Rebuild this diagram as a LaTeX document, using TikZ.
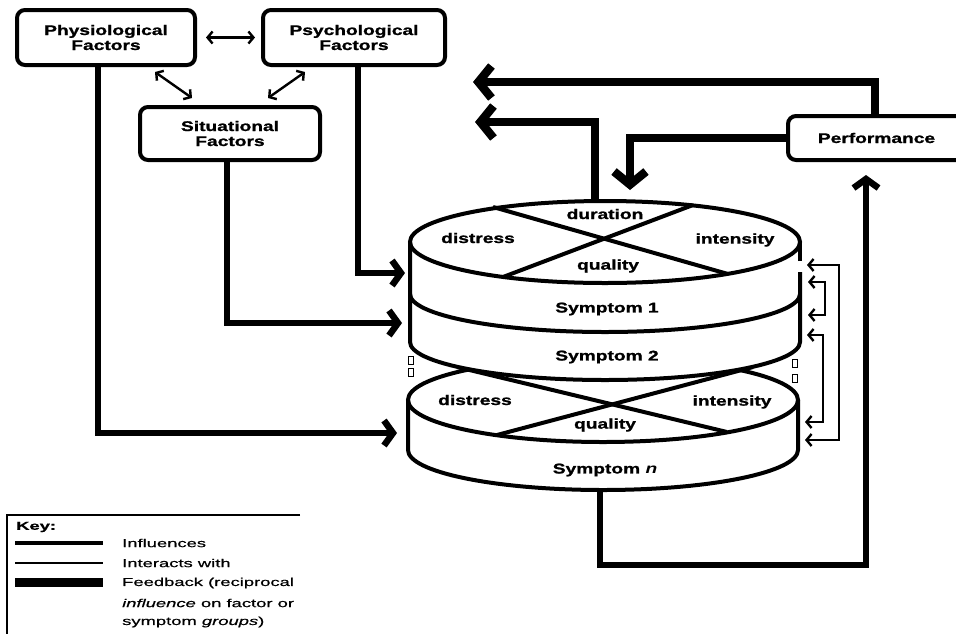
\documentclass[tikz,border=0pt]{standalone}
\usepackage{fontspec}
\setmainfont{Liberation Sans}[FakeStretch=1.37, BoldFeatures={FakeBold=1.2}]
\newfontfamily\keyfont{Liberation Sans}[FakeStretch=1.6, FakeBold=0.6]
\usetikzlibrary{arrows.meta}
\tikzset{
  every node/.style={font=\fontsize{14}{15}\selectfont\bfseries},
  box/.style={draw, line width=4pt, rounded corners=8pt, fill=white, align=center, inner sep=0pt},
  infl/.style={line width=6.5pt, -{Straight Barb[length=9pt,width=25pt]}},
  fb/.style={line width=8.5pt, -{Straight Barb[length=13pt,width=32pt]}},
  thinarr/.style={line width=2.4pt, {Straight Barb[length=5pt,width=12pt]}-{Straight Barb[length=5pt,width=12pt]}},
  cyl/.style={line width=4pt},
  lbl/.style={inner sep=0pt},
  keytxt/.style={font=\keyfont\fontsize{11.5}{13}\selectfont, anchor=west, inner sep=0pt},
  dotbox/.style={draw, line width=1pt, inner sep=0pt, minimum width=5pt, minimum height=8pt},
}
\begin{document}
\begin{tikzpicture}[x=1pt,y=1pt]
\useasboundingbox (0,0) rectangle (956,-633);
\fill[white] (0,0) rectangle (956,-633);
\clip (0,0) rectangle (956,-633);

% factor boxes
\node[box, minimum width=178pt, minimum height=55pt] (phys) at (106,-37.5) {Physiological\\Factors};
\node[box, minimum width=182pt, minimum height=55pt] (psych) at (354,-37.5) {Psychological\\Factors};
\node[box, minimum width=180pt, minimum height=53pt] (sit) at (230,-133.5) {Situational\\Factors};
\node[box, minimum width=177pt, minimum height=44pt] (perf) at (876.5,-138) {Performance};

% interactions between factors
\draw[thinarr, shorten <=9pt, shorten >=6pt] (phys.east) -- (psych.west);
\coordinate (d1a) at (155,-72); \coordinate (d1b) at (192,-98);
\coordinate (d2a) at (305,-72); \coordinate (d2b) at (268,-98);
\draw[thinarr] (d1a) -- (d1b);
\draw[thinarr] (d2a) -- (d2b);

% Symptom n cylinder (behind)
\draw[cyl, fill=white] (603,-400) ellipse [x radius=195pt, y radius=42pt];
\draw[cyl] (457,-367) -- (727,-432);
\draw[cyl] (753,-367) -- (497,-435);
\draw[cyl] (408,-400) -- (408,-450) arc[start angle=180, end angle=360, x radius=195pt, y radius=40pt] -- (798,-400);

% Symptom 1 / 2 stack
\fill[white] (410,-242) arc[start angle=180, end angle=0, x radius=195pt, y radius=41pt]
  -- (800,-342) arc[start angle=0, end angle=-180, x radius=195pt, y radius=38pt] -- cycle;
\draw[cyl] (605,-242) ellipse [x radius=195pt, y radius=41pt];
\draw[cyl] (493,-207) -- (728,-274);
\draw[cyl] (693,-205) -- (503,-277);
\draw[cyl] (410,-294) arc[start angle=180, end angle=360, x radius=195pt, y radius=38pt];
\draw[cyl] (410,-242) -- (410,-342) arc[start angle=180, end angle=360, x radius=195pt, y radius=38pt] -- (800,-272);
\draw[cyl] (800,-261) -- (800,-242);

% cylinder labels
\node[lbl] (dur) at (605,-214) {duration};
\node[lbl] (dis1) at (478,-238) {distress};
\node[lbl] (int1) at (735,-240) {intensity};
\node[lbl] (qua1) at (608,-266) {quality};
\node[lbl] (sy1) at (607,-309) {Symptom 1};
\node[lbl] (sy2) at (607,-357) {Symptom 2};
\node[lbl] (dis2) at (475,-400) {distress};
\node[lbl] (int2) at (732,-402) {intensity};
\node[lbl] (qua2) at (605,-425) {quality};
\node[lbl] (syn) at (605,-470) {Symptom \textit{n}};

% small marks
\node[dotbox] (m1) at (411,-360) {};
\node[dotbox] (m2) at (411,-372) {};
\node[dotbox] (m3) at (795,-363) {};
\node[dotbox] (m4) at (795,-378) {};

% influences
\coordinate (inPs) at (405,-273);
\coordinate (inSi) at (402,-323);
\coordinate (inPh) at (397,-433);
\draw[infl] ([xshift=4pt]psych.south) |- (inPs);
\draw[infl] ([xshift=-3pt]sit.south) |- (inSi);
\draw[infl] ([xshift=-8pt]phys.south) |- (inPh);

% feedback
\coordinate (fb1) at (473,-82);
\coordinate (s1top) at (595,-201);
\coordinate (fb2) at (475,-122);
\coordinate (fb3) at (630,-190);
\draw[fb] ([xshift=-1.5pt]perf.north) |- (fb1);
\draw[fb] (s1top) |- (fb2);
\draw[fb] (perf.west) -| (fb3);

% symptom n to performance
\coordinate (snb) at (600,-490);
\coordinate (snlow) at (600,-565);
\draw[infl, shorten >=13pt] (snb) -- (snlow) -| ([xshift=-10.5pt]perf.south);

% symptom interactions on the right
\coordinate (ra1) at (807,-265); \coordinate (ra2) at (805,-440);
\coordinate (rb1) at (808,-282); \coordinate (rb2) at (808,-315);
\coordinate (rc1) at (807,-335); \coordinate (rc2) at (805,-422);
\draw[thinarr] (ra1) -- ++(32,0) |- (ra2);
\draw[thinarr] (rb1) -- ++(17,0) |- (rb2);
\draw[thinarr] (rc1) -- ++(16,0) |- (rc2);

% key
\draw[line width=2.5pt] (300,-515) -- (7,-515) -- (7,-640);
\node[keytxt, font=\keyfont\fontsize{11.5}{13}\selectfont\bfseries] (key) at (16,-527) {Key:};
\draw[line width=4.5pt] (15,-543) -- (103,-543);
\draw[line width=2pt] (15,-563) -- (103,-563);
\draw[line width=9pt] (15,-582) -- (103,-582);
\node[keytxt] (k1) at (122,-543) {Influences};
\node[keytxt] (k2) at (122,-563) {Interacts with};
\node[keytxt] (k3) at (122,-583) {Feedback (reciprocal};
\node[keytxt] (k4) at (122,-603) {\itshape influence\upshape{} on factor or};
\node[keytxt] (k5) at (122,-622) {symptom \textit{groups})};
\end{tikzpicture}
\end{document}
